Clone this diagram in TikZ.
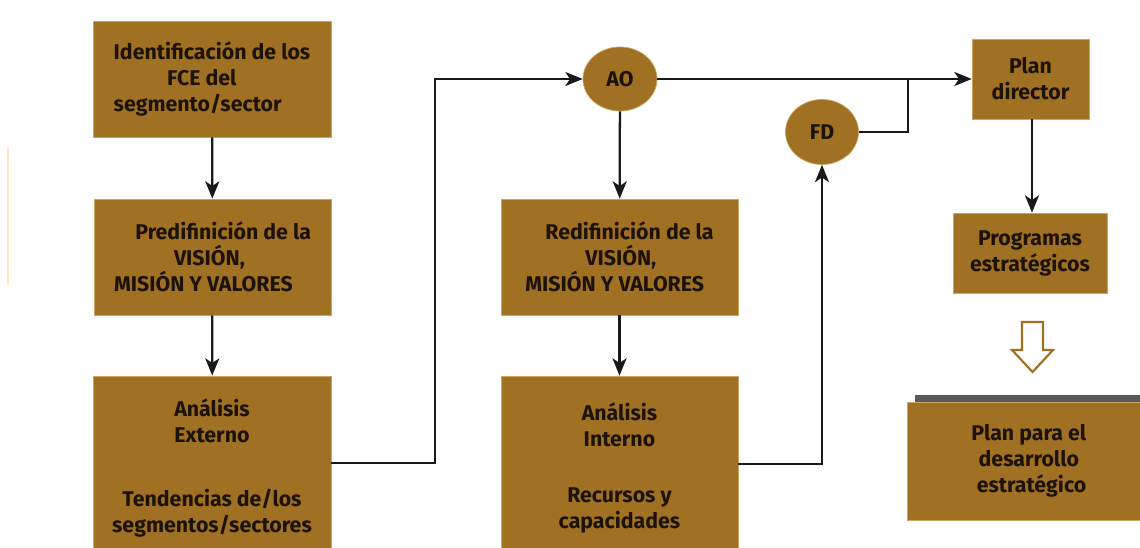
\documentclass[tikz,border=0pt]{standalone}
\usepackage{fontspec}
\setmainfont{Fira Sans}
\usetikzlibrary{arrows.meta,shapes.geometric,calc}
\definecolor{brn}{RGB}{160,112,35}
\definecolor{brnedge}{RGB}{205,165,95}
\definecolor{txt}{RGB}{28,18,8}
\definecolor{band}{RGB}{90,90,92}
\tikzset{
  boxstyle/.style={rectangle, fill=brn, draw=brnedge, line width=0.5pt, inner sep=0pt,
    text=txt, font=\fontsize{16}{19.5}\selectfont\bfseries},
  ovalstyle/.style={ellipse, fill=brn, draw=brnedge, line width=0.5pt, inner sep=0pt,
    text=txt, font=\fontsize{16}{19.5}\selectfont\bfseries},
  arr/.style={draw=black!90, line width=1.7pt, -{Stealth[length=13pt,width=10.5pt,inset=3.5pt]}},
  ln/.style={draw=black!90, line width=1.7pt},
}
\begin{document}
\begin{tikzpicture}[x=0.75pt,y=-0.75pt]
\useasboundingbox (0,0) rectangle (1140,548);
\clip (0,0) rectangle (1140,548);
\fill[white] (0,0) rectangle (1140,548);
% faint artefact line at left edge
\draw[draw={rgb,255:red,250;green,235;blue,190}, line width=1pt] (8,147) -- (8,285);

% left column
\node[boxstyle, minimum width=178.5pt, minimum height=87pt, align=left] (b1) at (212,79)
  {Identificación de los\\\hspace*{40pt}FCE del\\segmento/sector};
\node[boxstyle, minimum width=177.75pt, minimum height=87pt, align=left] (b2) at (212.5,257)
  {\hspace*{16pt}Predifinición de la\\\hspace*{45pt}VISIÓN,\\MISIÓN Y VALORES};
\node[boxstyle, minimum width=178.5pt, minimum height=138pt, align=center] (b3) at (212,468)
  {Análisis\\Externo\\[28pt]Tendencias de/los\\segmentos/sectores};

% middle column
\node[ovalstyle, minimum width=55.5pt, minimum height=48pt] (AO) at (620,79) {AO};
\node[boxstyle, minimum width=177.75pt, minimum height=87pt, align=left] (m2) at (619.5,257)
  {\hspace*{15pt}Redifinición de la\\\hspace*{45pt}VISIÓN,\\MISIÓN Y VALORES};
\node[boxstyle, minimum width=177.75pt, minimum height=138pt, align=center] (m3) at (619.5,468)
  {Análisis\\Interno\\[22pt]Recursos y\\capacidades};
\node[ovalstyle, minimum width=54.75pt, minimum height=48.75pt] (FD) at (822,132) {FD};

% right column
\node[boxstyle, minimum width=87.75pt, minimum height=60pt, align=center] (pd) at (1030.5,79)
  {Plan\\director};
\node[boxstyle, minimum width=115.5pt, minimum height=60pt, align=center] (pe) at (1030,253)
  {Programas\\estratégicos};
\fill[band] (915,395) rectangle (1140,402);
\node[boxstyle, minimum width=174.75pt, minimum height=88.5pt, align=center] (pde) at (1023.5,461)
  {\hspace*{8pt}Plan para el\\\hspace*{8pt}desarrollo\\\hspace*{12pt}estratégico};

% hollow arrow
\draw[draw=brn, fill=white, line width=1.6pt, line join=miter]
  (1022,322) -- (1043,322) -- (1043,350) -- (1053,350) -- (1032.5,372) -- (1012,350) -- (1022,350) -- cycle;

% connectors
\coordinate (c1) at (435,79);
\coordinate (j) at (908,79);
\draw[arr] (b1) -- (b2);
\draw[arr] (b2) -- (b3);
\draw[arr] (b3.east |- 0,463) -| (c1) -- (AO.west);
\draw[arr] (AO) -- (m2);
\draw[arr] (m2) -- (m3);
\draw[arr] (m3.east |- 0,464) -| (FD.south);
\draw[arr] (AO.east) -- (pd.west);
\draw[ln] (FD.east) -| (j);
\draw[arr] (pd.south -| 1032,0) -- (pe.north -| 1032,0);
\end{tikzpicture}
\end{document}
